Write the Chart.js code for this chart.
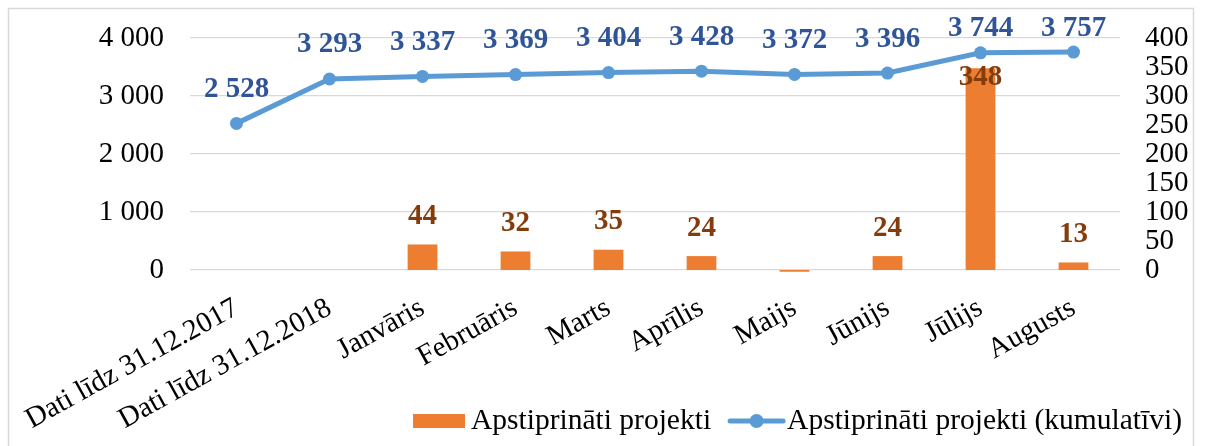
<!DOCTYPE html>
<html><head><meta charset="utf-8">
<script src="https://cdn.jsdelivr.net/npm/chart.js@4.4.1/dist/chart.umd.min.js"></script>
<style>html,body{margin:0;padding:0;background:#fff;}#wrap{width:1211px;height:446px;}</style>
</head><body><div id="wrap"><canvas id="c" width="1211" height="446"></canvas></div>
<script>
const categories = ['Dati līdz 31.12.2017','Dati līdz 31.12.2018','Janvāris','Februāris','Marts','Aprīlis','Maijs','Jūnijs','Jūlijs','Augusts'];
const approved = [null, null, 44, 32, 35, 24, -3, 24, 348, 13];
const cumulative = [2528, 3293, 3337, 3369, 3404, 3428, 3372, 3396, 3744, 3757];
const leftTicks = [0, 1000, 2000, 3000, 4000];
const rightTicks = [0, 50, 100, 150, 200, 250, 300, 350, 400];
const seriesNames = ['Apstiprināti projekti', 'Apstiprināti projekti (kumulatīvi)'];

const ORANGE = '#ED7D31', BLUE = '#5B9BD5', BLUE_LBL = '#2F5597', BROWN_LBL = '#843C0C';
const FONT = '"Liberation Serif", "Times New Roman", serif';
const fmt = v => String(v).replace(/\B(?=(\d{3})+(?!\d))/g, ' ');

const frame = {
  id: 'frame',
  beforeDraw(chart) {
    const ctx = chart.ctx; ctx.save();
    ctx.strokeStyle = '#d9d9d9'; ctx.lineWidth = 1.5;
    ctx.strokeRect(8.5, 8.5, 1185, 500);
    ctx.restore();
  }
};

const legendPlugin = {
  id: 'customLegend',
  afterDraw(chart) {
    const ctx = chart.ctx; ctx.save();
    ctx.font = '29.5px ' + FONT; ctx.textBaseline = 'middle'; ctx.textAlign = 'left'; ctx.fillStyle = '#000';
    const yc = 421, right = 1182;
    const w1 = ctx.measureText(seriesNames[0]).width, w2 = ctx.measureText(seriesNames[1]).width;
    const t2 = right - w2;
    const s2r = t2 - 2, s2l = s2r - 57;
    const t1e = s2l - 17, t1 = t1e - w1;
    const b1r = t1 - 6, b1l = b1r - 52;
    ctx.fillStyle = ORANGE; ctx.fillRect(b1l, yc - 7, 52, 14);
    ctx.strokeStyle = BLUE; ctx.lineWidth = 5; ctx.lineCap = 'round';
    ctx.beginPath(); ctx.moveTo(s2l + 2, yc); ctx.lineTo(s2r - 2, yc); ctx.stroke();
    ctx.fillStyle = BLUE; ctx.beginPath(); ctx.arc((s2l + s2r) / 2, yc, 7, 0, Math.PI * 2); ctx.fill();
    ctx.fillStyle = '#000';
    ctx.fillText(seriesNames[0], t1, yc);
    ctx.fillText(seriesNames[1], t2, yc);
    ctx.restore();
  }
};

const labels = {
  id: 'valueLabels',
  afterDatasetsDraw(chart) {
    const ctx = chart.ctx, area = chart.chartArea;
    ctx.save();
    ctx.font = 'bold 29px ' + FONT;
    ctx.textAlign = 'center'; ctx.textBaseline = 'middle';
    chart.data.datasets.forEach((ds, di) => {
      const meta = chart.getDatasetMeta(di);
      meta.data.forEach((el, i) => {
        const v = ds.data[i];
        if (v === null || v === undefined) return;
        if (ds.type === 'line') {
          ctx.fillStyle = BLUE_LBL;
          const y = Math.max(el.y - 34, area.top - 9);
          ctx.fillText(fmt(v), el.x, y);
        } else {
          if (v <= 0) return;
          ctx.fillStyle = BROWN_LBL;
          const y = Math.max(el.y - 28, area.top + 40);
          ctx.fillText(fmt(v), el.x, y);
        }
      });
    });
    ctx.restore();
  }
};

new Chart(document.getElementById('c'), {
  data: {
    labels: categories,
    datasets: [
      { type: 'bar', label: seriesNames[0], data: approved, yAxisID: 'y1',
        backgroundColor: ORANGE, barPercentage: 0.32, categoryPercentage: 1, order: 2, clip: false },
      { type: 'line', label: seriesNames[1], data: cumulative, yAxisID: 'y',
        borderColor: BLUE, backgroundColor: BLUE, borderWidth: 5, pointRadius: 6.5,
        pointBackgroundColor: BLUE, pointBorderWidth: 0, tension: 0, order: 1, clip: false }
    ]
  },
  options: {
    responsive: false, animation: false, devicePixelRatio: 1,
    layout: { padding: { top: 38, left: 0, right: 3, bottom: 0 }, autoPadding: false },
    plugins: { tooltip: { enabled: false }, legend: { display: false } },
    scales: {
      x: {
        grid: { display: false }, border: { display: false },
        ticks: { font: { family: FONT, size: 29 }, color: '#000', minRotation: 29, maxRotation: 29, autoSkip: false, padding: 13 },
        afterFit: s => { s.height = 176; }
      },
      y: {
        position: 'left', min: leftTicks[0], max: leftTicks[leftTicks.length - 1],
        grid: { color: '#d9d9d9', lineWidth: 1.3, drawTicks: false }, border: { display: false },
        ticks: { font: { family: FONT, size: 29 }, color: '#000', padding: 26, callback: v => fmt(v) },
        afterBuildTicks: s => { s.ticks = leftTicks.map(v => ({ value: v })); },
        afterFit: s => { s.width = 190; s.paddingTop = 0; s.paddingBottom = 0; }
      },
      y1: {
        position: 'right', min: rightTicks[0], max: rightTicks[rightTicks.length - 1],
        grid: { display: false, drawTicks: false }, border: { display: false },
        ticks: { font: { family: FONT, size: 29 }, color: '#000', padding: 25, autoSkip: false, callback: v => fmt(v) },
        afterBuildTicks: s => { s.ticks = rightTicks.map(v => ({ value: v })); },
        afterFit: s => { s.width = 88; s.paddingTop = 0; s.paddingBottom = 0; }
      }
    }
  },
  plugins: [frame, labels, legendPlugin]
});
</script></body></html>
